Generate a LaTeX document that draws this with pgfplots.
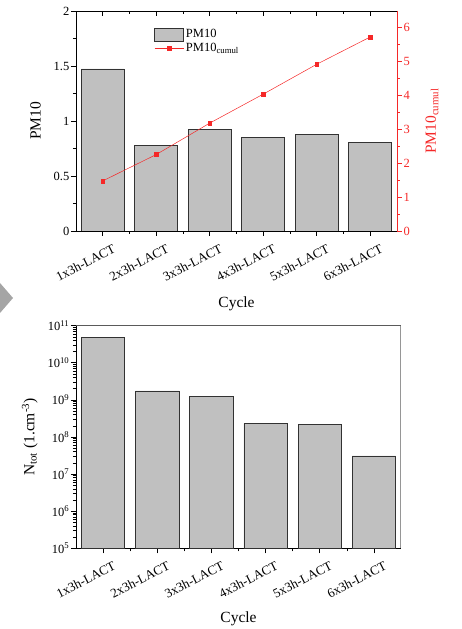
\documentclass[border=0pt]{standalone}
\usepackage{pgfplots}
\pgfplotsset{compat=1.18}
\usepackage{fontspec}
\setmainfont{Liberation Serif}

\definecolor{barfill}{RGB}{192,192,192}
\definecolor{baredge}{RGB}{50,50,50}
\definecolor{cumred}{RGB}{245,40,40}

\pgfplotsset{
  common/.style={
    scale only axis,
    xmin=-0.5, xmax=5.5,
    xtick={0,...,5},
    minor x tick num=1,
    tick align=outside,
    major tick length=5pt,
    minor tick length=3pt,
    every tick/.style={black, line width=0.6pt},
    axis line style={black, line width=0.8pt},
    tick label style={font=\fontsize{12.5}{14}\selectfont},
    yticklabel style={inner sep=1.5pt},
    /pgf/number format/assume math mode=true,
    label style={font=\fontsize{15.5}{18}\selectfont},
    xticklabel style={rotate=27, anchor=north east, font=\fontsize{13}{15}\selectfont,
      xshift=6pt, yshift=-10pt, inner sep=1pt},
  },
  cycles/.style={
    xticklabels={1x3h-LACT,2x3h-LACT,3x3h-LACT,4x3h-LACT,5x3h-LACT,6x3h-LACT},
  },
  barlegend/.style={
    legend image code/.code={\draw[##1] (0pt,-6.5pt) rectangle (29pt,6.5pt);},
  },
  cumlegend/.style={
    legend image code/.code={\draw[mark repeat=2, mark phase=2, ##1] plot coordinates {(0pt,0pt) (14.5pt,0pt) (29pt,0pt)};},
  },
}

\begin{document}
\begin{tikzpicture}
\useasboundingbox (0,0) rectangle (462pt,629pt);

% grey chevron on the left margin
\fill[fill={rgb,255:red,165;green,165;blue,165}] (0pt,346pt) -- (13pt,331pt) -- (0pt,316pt) -- cycle;

% ---------------- PM10 per cycle (left axis) ----------------
\begin{axis}[
  common, cycles,
  at={(76pt,398pt)}, anchor=south west,
  width=321pt, height=220pt,
  ymin=0, ymax=2,
  ytick={0,0.5,1,1.5,2},
  yticklabels={0,0.5,1,1.5,2},
  minor y tick num=1,
  xtick pos=bottom, ytick pos=left,
  ylabel={PM10},
  ylabel style={at={(axis description cs:-0.126,0.5)}, anchor=center, rotate=0},
  xlabel={Cycle},
  xlabel style={at={(axis description cs:0.5,-0.33)}, anchor=center},
  legend style={draw=none, fill=none, at={(axis description cs:0.24,0.93)}, anchor=north west,
    font=\fontsize{12.5}{14}\selectfont, row sep=0pt, inner sep=1pt},
  legend cell align=left,
]
\addplot[ybar, bar width=0.8, fill=barfill, draw=baredge, line width=0.7pt, barlegend]
  coordinates {(0,1.473) (1,0.776) (2,0.924) (3,0.852) (4,0.879) (5,0.803)};
\addlegendentry{PM10}
\addlegendimage{cumred, line width=0.5pt, mark=square*, mark size=1.9pt, cumlegend}
\addlegendentry{PM10\textsubscript{cumul}}
\end{axis}

% ---------------- top inward ticks ----------------
\begin{axis}[
  common,
  at={(76pt,398pt)}, anchor=south west,
  width=321pt, height=220pt,
  ymin=0, ymax=2,
  axis x line*=top, axis y line=none,
  tick align=inside,
  xticklabels={},
]
\end{axis}

% ---------------- cumulative PM10 (right axis) ----------------
\begin{axis}[
  common,
  at={(76pt,398pt)}, anchor=south west,
  width=321pt, height=220pt,
  ymin=0, ymax=6.47,
  axis y line*=right, axis x line=none,
  ytick={0,...,6},
  minor y tick num=1,
  y axis line style={cumred, line width=0.8pt},
  every y tick/.style={cumred, line width=0.6pt},
  yticklabel style={text=cumred},
  ylabel={PM10\textsubscript{cumul}},
  ylabel style={text=cumred, at={(axis description cs:1.109,0.5)}, anchor=center, rotate=0},
]
\addplot[cumred, line width=0.5pt, mark=square*, mark size=1.9pt]
  coordinates {(0,1.473) (1,2.249) (2,3.173) (3,4.025) (4,4.904) (5,5.707)};
\end{axis}

% ---------------- total number concentration ----------------
\begin{axis}[
  common, cycles,
  at={(76pt,80.7pt)}, anchor=south west,
  width=325pt, height=222.6pt,
  ymode=log, ymin=1e5, ymax=1e11,
  log origin y=infty,
  ytick={1e5,1e6,1e7,1e8,1e9,1e10,1e11},
  yticklabels={10\textsuperscript{5},10\textsuperscript{6},10\textsuperscript{7},10\textsuperscript{8},10\textsuperscript{9},10\textsuperscript{10},10\textsuperscript{11}},
  axis x line*=bottom, axis y line*=left,
  xtick pos=bottom, ytick pos=left,
  ylabel={N\textsubscript{tot} (1.cm\textsuperscript{-3})},
  ylabel style={at={(axis description cs:-0.142,0.5)}, anchor=center, rotate=0},
  xlabel={Cycle},
  xlabel style={at={(axis description cs:0.5,-0.315)}, anchor=center},
]
\addplot[ybar, bar width=0.8, fill=barfill, draw=baredge, line width=0.7pt]
  coordinates {(0,4.8e10) (1,1.74e9) (2,1.25e9) (3,2.3e8) (4,2.2e8) (5,3.1e7)};
\draw[line width=0.9pt, color={rgb,255:red,90;green,90;blue,90}] (rel axis cs:0,1) -- (rel axis cs:1,1);
\draw[line width=1.3pt, color={rgb,255:red,150;green,150;blue,150}] (rel axis cs:1,1) -- (rel axis cs:1,0);
\end{axis}
\end{tikzpicture}
\end{document}
